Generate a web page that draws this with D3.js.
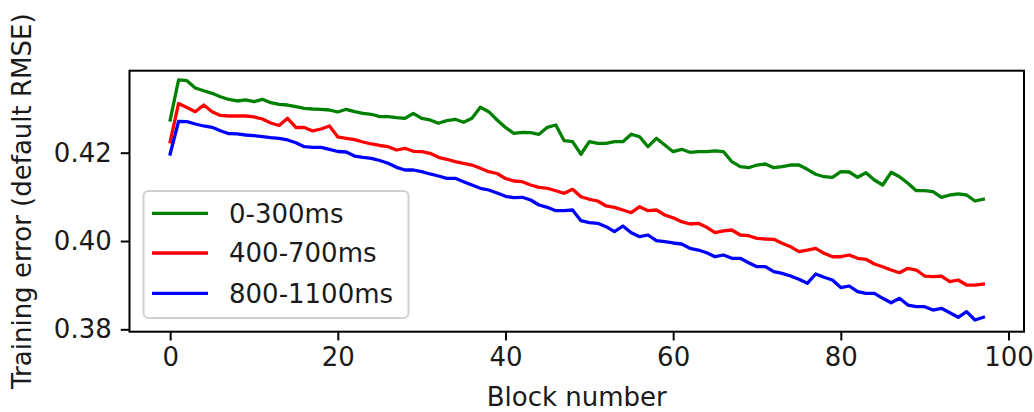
<!DOCTYPE html>
<html><head><meta charset="utf-8">
<script src="https://cdn.jsdelivr.net/npm/d3@7"></script>
<style>
html,body{margin:0;padding:0;background:#fff;}
text{font-family:"DejaVu Sans",sans-serif;fill:#1a1a1a;}
</style></head>
<body>
<svg id="chart" width="1034" height="412"></svg>
<script>
const seriesNames = ["0-300ms", "400-700ms", "800-1100ms"];
const seriesColors = ["#008000", "#ff0000", "#0000ff"];
const xTicks = [0, 20, 40, 60, 80, 100];
const yTicks = [0.38, 0.40, 0.42];
const xLabel = "Block number";
const yLabel = "Training error (default RMSE)";

const green = [0.42741,0.43647,0.43631,0.43465,0.43404,0.43345,0.43268,0.43205,0.43171,0.43194,
0.43155,0.43209,0.43133,0.43096,0.43080,0.43042,0.43006,0.42990,0.42983,0.42967,
0.42922,0.42983,0.42929,0.42892,0.42870,0.42815,0.42815,0.42793,0.42779,0.42892,
0.42779,0.42741,0.42666,0.42725,0.42757,0.42689,0.42779,0.43028,0.42929,0.42741,
0.42571,0.42439,0.42462,0.42453,0.42417,0.42575,0.42627,0.42272,0.42249,0.41964,
0.42249,0.42213,0.42213,0.42249,0.42249,0.42417,0.42362,0.42136,0.42326,0.42174,
0.42023,0.42077,0.42009,0.42023,0.42023,0.42039,0.42023,0.41796,0.41683,0.41660,
0.41721,0.41744,0.41660,0.41683,0.41721,0.41721,0.41624,0.41511,0.41456,0.41443,
0.41570,0.41563,0.41443,0.41547,0.41382,0.41268,0.41556,0.41456,0.41307,0.41139,
0.41139,0.41117,0.40990,0.41042,0.41065,0.41042,0.40906,0.40945];

const red = [0.42249,0.43114,0.43024,0.42929,0.43080,0.42929,0.42843,0.42831,0.42831,0.42831,
0.42809,0.42763,0.42673,0.42616,0.42779,0.42571,0.42571,0.42492,0.42537,0.42605,
0.42356,0.42326,0.42294,0.42242,0.42197,0.42163,0.42136,0.42061,0.42100,0.42032,
0.42023,0.41986,0.41896,0.41851,0.41796,0.41760,0.41721,0.41647,0.41570,0.41529,
0.41416,0.41359,0.41343,0.41268,0.41216,0.41194,0.41139,0.41080,0.41171,0.41003,
0.40945,0.40906,0.40793,0.40763,0.40702,0.40641,0.40777,0.40686,0.40702,0.40589,
0.40525,0.40437,0.40385,0.40401,0.40310,0.40188,0.40227,0.40249,0.40136,0.40120,
0.40061,0.40045,0.40039,0.39948,0.39871,0.39758,0.39796,0.39835,0.39721,0.39644,
0.39644,0.39683,0.39608,0.39586,0.39479,0.39418,0.39343,0.39282,0.39382,0.39343,
0.39207,0.39191,0.39207,0.39078,0.39117,0.39003,0.39003,0.39026];

const blue = [0.41971,0.42707,0.42702,0.42650,0.42605,0.42575,0.42498,0.42430,0.42424,0.42401,
0.42385,0.42362,0.42340,0.42326,0.42288,0.42226,0.42136,0.42122,0.42122,0.42077,
0.42027,0.42016,0.41925,0.41896,0.41873,0.41823,0.41760,0.41669,0.41608,0.41608,
0.41570,0.41518,0.41472,0.41420,0.41420,0.41343,0.41268,0.41194,0.41155,0.41087,
0.41012,0.40981,0.40990,0.40929,0.40815,0.40763,0.40686,0.40686,0.40702,0.40460,
0.40414,0.40401,0.40324,0.40211,0.40340,0.40188,0.40097,0.40136,0.40007,0.39984,
0.39955,0.39932,0.39835,0.39796,0.39735,0.39644,0.39683,0.39608,0.39608,0.39509,
0.39418,0.39418,0.39305,0.39268,0.39207,0.39132,0.39042,0.39253,0.39178,0.39117,
0.38947,0.38981,0.38852,0.38815,0.38815,0.38702,0.38602,0.38702,0.38550,0.38512,
0.38512,0.38437,0.38476,0.38376,0.38272,0.38399,0.38211,0.38272];

const allSeries = [green, red, blue];

const svg = d3.select("#chart");
const L = 129.5, R = 1024, T = 70.7, B = 331.7;
const x = d3.scaleLinear().domain([-4.85, 101.85]).range([L, R]);
const y = d3.scaleLinear().domain([0.37946, 0.43857]).range([B, T]);

const line = d3.line().x((d, i) => x(i)).y(d => y(d));

const plot = svg.append("g");
allSeries.forEach((s, k) => {
  plot.append("path").datum(s)
    .attr("fill", "none")
    .attr("stroke", seriesColors[k])
    .attr("stroke-width", 3.3)
    .attr("stroke-linejoin", "round")
    .attr("stroke-linecap", "square")
    .attr("d", line);
});

// axes
const fs = 26;
const xAxis = d3.axisBottom(x).tickValues(xTicks).tickFormat(d3.format("d"))
  .tickSizeInner(8.75).tickSizeOuter(0).tickPadding(7);
const gx = svg.append("g").attr("transform", `translate(0,${B})`).call(xAxis);
const yAxis = d3.axisLeft(y).tickValues(yTicks).tickFormat(d3.format(".2f"))
  .tickSizeInner(8.75).tickSizeOuter(0).tickPadding(9);
const gy = svg.append("g").attr("transform", `translate(${L},0)`).call(yAxis);
[gx, gy].forEach(g => {
  g.select(".domain").remove();
  g.selectAll(".tick line").attr("stroke", "#000").attr("stroke-width", 2);
  g.selectAll(".tick text").attr("font-size", fs).attr("fill", "#1a1a1a")
    .style("font-family", "DejaVu Sans");
});

// frame
svg.append("rect").attr("x", L).attr("y", T).attr("width", R - L).attr("height", B - T)
  .attr("fill", "none").attr("stroke", "#000").attr("stroke-width", 2);

// axis labels
svg.append("text").attr("x", (L + R) / 2).attr("y", 406)
  .attr("text-anchor", "middle").attr("font-size", fs).text(xLabel);
svg.append("text").attr("transform", `translate(31,${(T + B) / 2}) rotate(-90)`)
  .attr("text-anchor", "middle").attr("font-size", fs).text(yLabel);

// legend
const lg = svg.append("g");
lg.append("rect").attr("x", 143.5).attr("y", 191).attr("width", 265).attr("height", 127)
  .attr("rx", 5).attr("fill", "#fff").attr("fill-opacity", 0.8)
  .attr("stroke", "#d0d0d0").attr("stroke-width", 2);
const rowY = [213.3, 253, 293.3];
seriesNames.forEach((n, k) => {
  lg.append("line").attr("x1", 152).attr("x2", 208).attr("y1", rowY[k]).attr("y2", rowY[k])
    .attr("stroke", seriesColors[k]).attr("stroke-width", 3.3);
  lg.append("text").attr("x", 229).attr("y", rowY[k]).attr("dy", "0.36em")
    .attr("font-size", fs).text(n);
});
</script>
</body></html>
